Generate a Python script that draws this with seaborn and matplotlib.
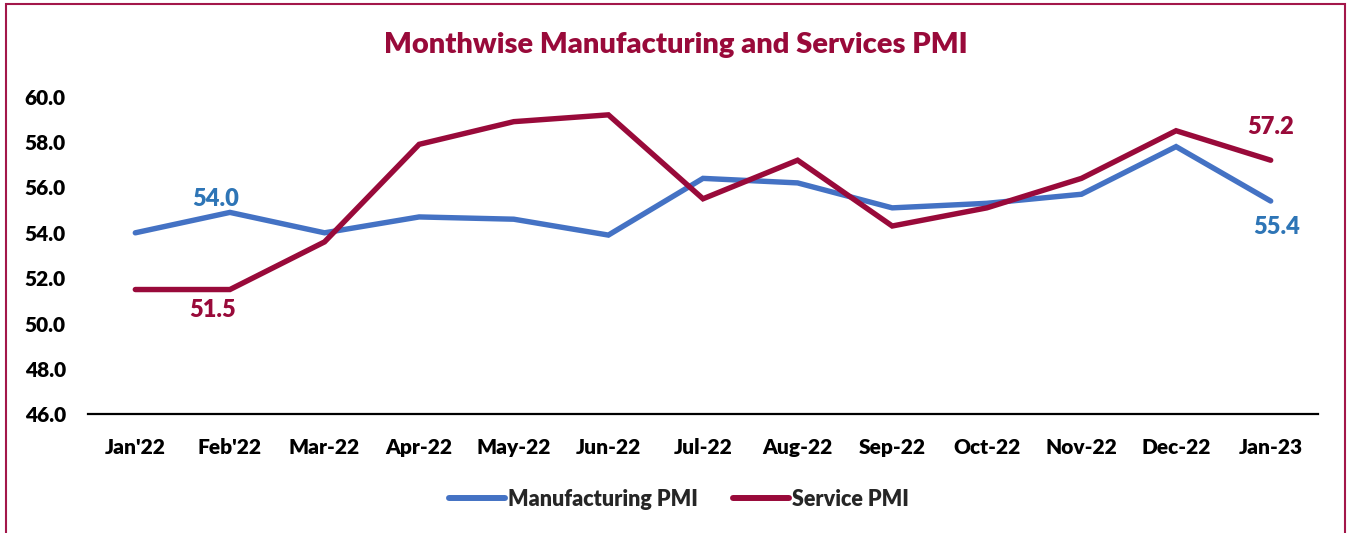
import matplotlib
matplotlib.use("Agg")
import matplotlib.pyplot as plt
import seaborn as sns
import pandas as pd
from matplotlib.patches import Rectangle
from matplotlib.ticker import FormatStrFormatter

months = ["Jan'22", "Feb'22", "Mar-22", "Apr-22", "May-22", "Jun-22", "Jul-22",
          "Aug-22", "Sep-22", "Oct-22", "Nov-22", "Dec-22", "Jan-23"]
manufacturing = [54.0, 54.9, 54.0, 54.7, 54.6, 53.9, 56.4, 56.2, 55.1, 55.3, 55.7, 57.8, 55.4]
service = [51.5, 51.5, 53.6, 57.9, 58.9, 59.2, 55.5, 57.2, 54.3, 55.1, 56.4, 58.5, 57.2]
series_names = ["Manufacturing PMI", "Service PMI"]
y_ticks = [46, 48, 50, 52, 54, 56, 58, 60]

BLUE = "#4472C4"
MAROON = "#990A3A"
BLUE_LABEL = "#2E75B6"
W = "heavy"

df = pd.DataFrame({
    "Month": months * 2,
    "PMI": manufacturing + service,
    "Series": [series_names[0]] * len(months) + [series_names[1]] * len(months),
})

sns.set_theme(style="white")
plt.rcParams["font.family"] = ["Lato", "DejaVu Sans"]
plt.rcParams["font.weight"] = W

fig = plt.figure(figsize=(13.47, 5.33), dpi=100)
ax = fig.add_axes([88 / 1347, 1 - 414.3 / 533, (1318 - 88) / 1347, (414.3 - 96.7) / 533])

sns.lineplot(data=df, x="Month", y="PMI", hue="Series",
             palette={series_names[0]: BLUE, series_names[1]: MAROON},
             linewidth=3.9, sort=False, ax=ax, legend=True)
for ln in ax.get_lines():
    ln.set_solid_capstyle("round")
    ln.set_solid_joinstyle("miter")

ax.set_xlim(-0.5, len(months) - 0.5)
ax.set_ylim(46, 60)
ax.set_yticks(y_ticks)
ax.yaxis.set_major_formatter(FormatStrFormatter("%.1f"))
ax.set_xlabel("")
ax.set_ylabel("")
for s in ["top", "right", "left"]:
    ax.spines[s].set_visible(False)
ax.spines["bottom"].set_color("black")
ax.spines["bottom"].set_linewidth(1.6)
ax.tick_params(axis="y", length=0, pad=16, labelsize=15, labelcolor="black")
ax.tick_params(axis="x", length=0, pad=17, labelsize=15, labelcolor="black")
for lab in ax.get_xticklabels() + ax.get_yticklabels():
    lab.set_fontweight(W)

# data labels
lab_kw = dict(textcoords="offset points", ha="center", va="center",
              fontsize=17, fontweight=W)
ax.annotate(f"{manufacturing[0]:.1f}", (0, manufacturing[0]), xytext=(58, 24), color=BLUE_LABEL, **lab_kw)
ax.annotate(f"{service[0]:.1f}", (0, service[0]), xytext=(56, -15), color=MAROON, **lab_kw)
ax.annotate(f"{service[-1]:.1f}", (len(months) - 1, service[-1]), xytext=(0, 24), color=MAROON, **lab_kw)
ax.annotate(f"{manufacturing[-1]:.1f}", (len(months) - 1, manufacturing[-1]), xytext=(4, -19), color=BLUE_LABEL, **lab_kw)

# legend
handles, labels = ax.get_legend_handles_labels()
ax.legend_.remove()
for h in handles:
    h.set_linewidth(4.3)
    h.set_solid_capstyle("round")
leg = fig.legend(handles, labels, loc="center", bbox_to_anchor=(679 / 1347, 1 - 499 / 533),
                 ncol=2, frameon=False, handlelength=2.6, handletextpad=0.15,
                 columnspacing=1.6, prop={"size": 15.5, "weight": W})

# title
fig.text(676 / 1347, 1 - 45 / 533, "Monthwise Manufacturing and Services PMI",
         ha="center", va="center", fontsize=21, fontweight=W, color=MAROON)

# chart border
fig.patches.append(Rectangle((5.7 / 1347, -0.01), (1345 - 5.7) / 1347, (1 - 4.3 / 533) + 0.01,
                             transform=fig.transFigure, fill=False,
                             edgecolor="#A3174A", linewidth=1.5))

fig.savefig("out.png", dpi=100)
